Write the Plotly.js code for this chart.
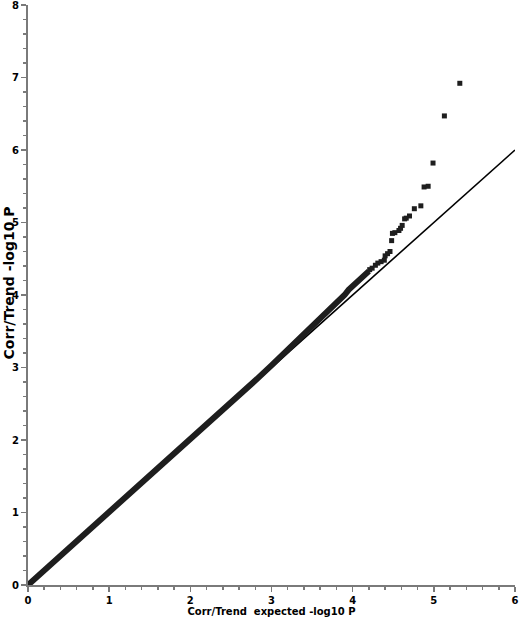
<!DOCTYPE html>
<html>
<head>
<meta charset="utf-8">
<script src="https://cdn.plot.ly/plotly-3.0.1.min.js"></script>
<style>html,body{margin:0;padding:0;background:#fff;}#chart{width:520px;height:617px;}</style>
</head>
<body>
<div id="chart"></div>
<script>
// Dense part of the QQ band (expected, observed), read along the thick band
var bandExpected = [0, 0.5, 1.0, 1.5, 2.0, 2.5, 2.8, 3.0, 3.2, 3.4, 3.5, 3.6, 3.7, 3.8, 3.85, 3.9, 3.95, 4.0, 4.05, 4.1, 4.15, 4.2];
var bandObserved = [0, 0.5, 1.0, 1.5, 2.0, 2.51, 2.82, 3.03, 3.24, 3.45, 3.56, 3.66, 3.77, 3.89, 3.95, 4.0, 4.07, 4.12, 4.16, 4.22, 4.26, 4.33];
// Sparse tail points
var tailExpected = [4.21, 4.24, 4.28, 4.31, 4.35, 4.39, 4.40, 4.43, 4.46, 4.48, 4.49, 4.52, 4.57, 4.59, 4.61, 4.64, 4.66, 4.70, 4.76, 4.84, 4.88, 4.93, 4.99, 5.13, 5.32];
var tailObserved = [4.35, 4.37, 4.41, 4.44, 4.46, 4.48, 4.54, 4.57, 4.60, 4.75, 4.85, 4.86, 4.89, 4.92, 4.96, 5.05, 5.06, 5.09, 5.19, 5.23, 5.49, 5.50, 5.82, 6.47, 6.92];
// Reference (y = x) line
var refX = [0, 6];
var refY = [0, 6];
var xTickVals = [0, 1, 2, 3, 4, 5, 6];
var yTickVals = [0, 1, 2, 3, 4, 5, 6, 7, 8];
var xTitle = 'Corr/Trend  expected -log10 P';
var yTitle = 'Corr/Trend -log10 P';

var traces = [
  {x: refX, y: refY, mode: 'lines', line: {color: '#000', width: 1.6}, hoverinfo: 'skip'},
  {x: bandExpected, y: bandObserved, mode: 'lines', line: {color: '#1e1e1e', width: 6}},
  {x: tailExpected, y: tailObserved, mode: 'markers', marker: {symbol: 'square', size: 5, color: '#1e1e1e'}}
];

var axisCommon = {
  showgrid: false, zeroline: false, showline: true, linecolor: '#7a7a7a', linewidth: 2,
  ticks: 'outside', ticklen: 5, tickwidth: 1.5, tickcolor: '#7a7a7a',
  tickfont: {family: 'DejaVu Sans', size: 10, color: '#000', weight: 'bold'},
  ticklabeloverflow: 'allow',
  automargin: false, fixedrange: true
};

var layout = {
  width: 520, height: 617,
  margin: {l: 28, r: 5, t: 5, b: 32},
  paper_bgcolor: '#fff', plot_bgcolor: '#fff',
  showlegend: false,
  xaxis: Object.assign({}, axisCommon, {
    range: [0, 6], tickvals: xTickVals, ticktext: xTickVals.map(String),
    minor: {dtick: 0.2, tick0: 0, ticks: 'outside', ticklen: 3, tickcolor: '#7a7a7a', tickwidth: 1.5},
    title: {text: xTitle, font: {family: 'DejaVu Sans', size: 10, color: '#000', weight: 'bold'}, standoff: 1}
  }),
  yaxis: Object.assign({}, axisCommon, {
    range: [0, 8], tickvals: yTickVals, ticktext: yTickVals.map(String),
    minor: {dtick: 0.2, tick0: 0, ticks: 'outside', ticklen: 3, tickcolor: '#7a7a7a', tickwidth: 1.5}
  }),
  annotations: [{
    text: yTitle, textangle: -90, showarrow: false,
    xref: 'paper', x: 0, xshift: -19, xanchor: 'center',
    yref: 'paper', y: 0.52, yanchor: 'middle',
    font: {family: 'DejaVu Sans', size: 14, color: '#000', weight: 'bold'}
  }]
};

Plotly.newPlot('chart', traces, layout, {displayModeBar: false, staticPlot: true});
</script>
</body>
</html>
